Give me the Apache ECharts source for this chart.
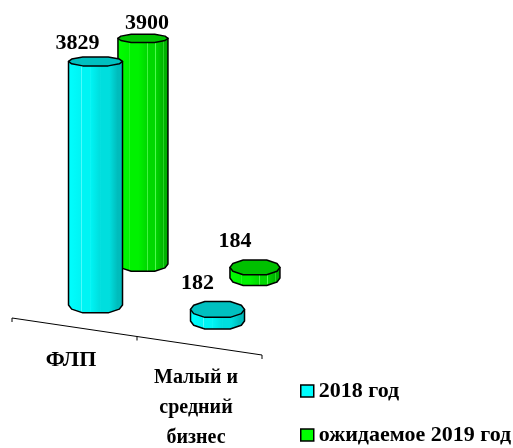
<!DOCTYPE html>
<html><head><meta charset="utf-8">
<style>html,body{margin:0;padding:0;background:#fff}#c{width:513px;height:448px}</style>
<script src="https://cdn.jsdelivr.net/npm/echarts@6/dist/echarts.min.js"></script>
</head><body><div id="c"></div>
<script>
var categories = ['ФЛП', 'Малый и\nсредний\nбизнес'];
var values2018 = [3829, 182];
var values2019 = [3900, 184];
var name2018 = '2018 год';
var name2019 = 'ожидаемое 2019 год';

var FONT = '"Liberation Serif","Times New Roman",serif';
var AXIS_SLOPE = 0.148;
var depthRows = {
  front: {ax:22.8, bx:.976, ay:21.9, by:.865, h:1, r:27, z:3,
    colors:['#00ffff','#00f4f4','#00dede','#00bcbc'], stripe:'#4dfafa', cap:'#00c0c0',
    labelOffset:[[-18,-18],[-20,-26]]},
  back: {ax:76.2, bx:.896, ay:16.3, by:.757, h:.91, r:25, z:2,
    colors:['#00ff00','#00f200','#00d800','#00b000'], stripe:'#4dfa4d', cap:'#00c000',
    labelOffset:[[4,-15],[-20,-26]]}
};
var ANGLES = [0,28,62,118,152,180];

function gradient(row){
  var stops=[], n=row.colors.length-1;
  function colorAt(o){return row.colors[Math.min(n,Math.round(o*n))];}
  for(var i=0;i<=n;i++) stops.push({offset:i/n,color:row.colors[i]});
  [.24,.4,.58,.74,.9].forEach(function(o){
    stops.push({offset:o-.002,color:colorAt(o)});
    stops.push({offset:o,color:row.stripe});
    stops.push({offset:o+.008,color:row.stripe});
    stops.push({offset:o+.01,color:colorAt(o)});
  });
  stops.sort(function(a,b){return a.offset-b.offset});
  return new echarts.graphic.LinearGradient(0,0,1,0,stops);
}

function cylinderRender(row){
  return function(params, api){
    var cat=api.value(0), val=api.value(1);
    var base=api.coord([cat,0]);
    var cs=params.coordSys;
    var skewY=base[1]+(base[0]-cs.x)*AXIS_SLOPE;
    var cx=row.ax+row.bx*base[0];
    var botY=row.ay+row.by*skewY;
    var topY=botY-api.size([0,val])[1]*row.h;
    var ry=function(y){return 5+(y-60)*0.016;};
    var lower=function(y){return ANGLES.map(function(a){var t=a*Math.PI/180;return [cx+row.r*Math.cos(t),y+ry(y)*Math.sin(t)];});};
    var upper=function(y){return ANGLES.map(function(a){var t=a*Math.PI/180;return [cx+row.r*Math.cos(t),y-ry(y)*Math.sin(t)];});};
    var sideTop=[cx-row.r,topY], sideTop2=[cx+row.r,topY];
    var body=[sideTop].concat(lower(botY).reverse()).concat([sideTop2]);
    var cap=lower(topY).concat(upper(topY).reverse().slice(1,-1));
    var off=row.labelOffset[params.dataIndex];
    var lineStyle={stroke:'#000',lineWidth:1.5,lineJoin:'round'};
    return {type:'group',children:[
      {type:'polygon',shape:{points:body},style:Object.assign({fill:gradient(row)},lineStyle)},
      {type:'polygon',shape:{points:cap},style:Object.assign({fill:row.cap},lineStyle)},
      {type:'text',x:cx+off[0],y:topY+off[1],style:{text:String(val),font:'bold 22px '+FONT,fill:'#000',align:'center',verticalAlign:'middle'}}
    ]};
  };
}

function axisRender(params, api){
  var cs=params.coordSys, i=api.value(0);
  var band=api.size([1,0])[0];
  var p=api.coord([i,0]);
  var xa=p[0]-band/2, xb=p[0]+band/2;
  var ya=p[1]+(xa-cs.x)*AXIS_SLOPE, yb=p[1]+(xb-cs.x)*AXIS_SLOPE;
  var style={stroke:'#000',lineWidth:1};
  var kids=[{type:'line',shape:{x1:xa,y1:ya,x2:xb,y2:yb},style:style},
            {type:'line',shape:{x1:xa,y1:ya,x2:xa,y2:ya+4},style:style}];
  if(i===categories.length-1) kids.push({type:'line',shape:{x1:xb,y1:yb,x2:xb,y2:yb+4},style:style});
  return {type:'group',children:kids};
}

function points(arr){return arr.map(function(v,i){return [i,v];});}

var chart=echarts.init(document.getElementById('c'),null,{renderer:'canvas'});
chart.setOption({
  animation:false,
  backgroundColor:'#fff',
  grid:{left:12,width:250,top:0,height:318,containLabel:false},
  xAxis:{type:'category',data:categories,axisLine:{show:false},axisTick:{show:false},splitLine:{show:false},
    axisLabel:{margin:0,padding:[0,7,0,0],interval:0,hideOverlap:false,
      formatter:function(v,i){
        var tag=i===0?'b':'a';
        var lines=v.split('\n').map(function(s){return '{'+tag+'|'+s+'}';}).join('\n');
        return '{g'+i+'| }\n'+lines;
      },
      rich:{a:{fontFamily:FONT,fontWeight:'bold',fontSize:20,lineHeight:30,color:'#000',align:'center'},
            b:{fontFamily:FONT,fontWeight:'bold',fontSize:22,lineHeight:30,color:'#000',align:'center'},
            g0:{lineHeight:27,fontSize:2},g1:{lineHeight:45,fontSize:2}}}},
  yAxis:{type:'value',min:0,max:5000,show:false,splitLine:{show:false}},
  legend:{orient:'vertical',left:300,top:380,padding:0,height:68,itemWidth:13,itemHeight:12,itemGap:22,icon:'rect',
    data:[
      {name:name2018,itemStyle:{color:'#00ffff',borderColor:'#000',borderWidth:1.5}},
      {name:name2019,itemStyle:{color:'#00ff00',borderColor:'#000',borderWidth:1.5}}],
    textStyle:{fontFamily:FONT,fontWeight:'bold',fontSize:22,color:'#000'}},
  series:[
    {type:'custom',name:'axis',data:points([0,0]),renderItem:axisRender,z:1,silent:true,encode:{x:0,y:1}},
    {type:'custom',name:name2018,data:points(values2018),renderItem:cylinderRender(depthRows.front),z:3,encode:{x:0,y:1},itemStyle:{color:'#00ffff'}},
    {type:'custom',name:name2019,data:points(values2019),renderItem:cylinderRender(depthRows.back),z:2,encode:{x:0,y:1},itemStyle:{color:'#00ff00'}}
  ]
});
</script></body></html>
